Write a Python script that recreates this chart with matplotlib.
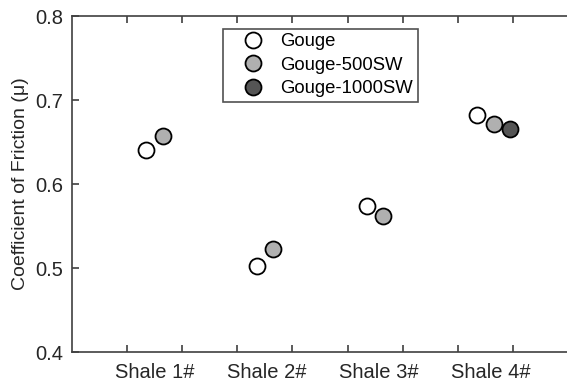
import matplotlib
matplotlib.use("Agg")
import matplotlib.pyplot as plt
import numpy as np
from matplotlib.lines import Line2D

plt.rcParams['font.family'] = ['Liberation Sans', 'DejaVu Sans']

shales = ['Shale 1#', 'Shale 2#', 'Shale 3#', 'Shale 4#']
series = ['Gouge', 'Gouge-500SW', 'Gouge-1000SW']
colors = ['white', '#b0b0b0', '#555555']

# friction values per shale, one list per series (None = not measured)
gouge = [0.640, 0.502, 0.574, 0.682]
gouge_500 = [0.657, 0.523, 0.562, 0.671]
gouge_1000 = [None, None, None, 0.666]

axis_col = '#404040'

fig = plt.figure(figsize=(5.67, 3.87), dpi=100)
ax = fig.add_axes((72 / 567, 35 / 387, 496 / 567, 336 / 387))

group_x = 1.35 + 2 * np.arange(len(shales))
for k, (vals, c) in enumerate(zip([gouge, gouge_500, gouge_1000], colors)):
    for i, v in enumerate(vals):
        if v is None:
            continue
        ax.plot(group_x[i] + 0.3 * k, v, 'o', ms=11.5, mfc=c, mec='black',
                mew=1.3, zorder=3, clip_on=False)

ax.set_xlim(0, 9)
ax.set_ylim(0.4, 0.8)
ax.set_yticks(np.arange(0.4, 0.81, 0.1))
ax.set_yticklabels(['0.4', '0.5', '0.6', '0.7', '0.8'])
ax.set_xticks(np.arange(1, 9))
ax.set_xticklabels([])
ax.set_xticks([1.5, 3.53, 5.56, 7.6], minor=True)
ax.set_xticklabels(shales, minor=True)
ax.tick_params(axis='x', which='minor', length=0, pad=8, labelsize=14.5,
               labelcolor='#262626')
ax.tick_params(which='major', direction='in', length=5, width=1.2,
               color=axis_col, top=True, labelsize=14.5, labelcolor='#262626')
ax.tick_params(axis='y', pad=6.5)
ax.set_ylabel('Coefficient of Friction (μ)', fontsize=14, color='#262626',
              labelpad=4)
for s in ['left', 'bottom', 'top', 'right']:
    ax.spines[s].set_color(axis_col)
    ax.spines[s].set_linewidth(1.2)

handles = [Line2D([], [], ls='none', marker='o', ms=11.5, mfc=c, mec='black',
                  mew=1.3) for c in colors]
leg = ax.legend(handles, series, loc='upper left',
                bbox_to_anchor=(151 / 496, 1 - 12.5 / 336),
                fontsize=13.3, frameon=True, fancybox=False, edgecolor='#262626',
                borderpad=0.25, labelspacing=0.36, handletextpad=0.15,
                handlelength=2.7, borderaxespad=0)
leg.get_frame().set_linewidth(1.2)

fig.savefig('out.png', dpi=100)
